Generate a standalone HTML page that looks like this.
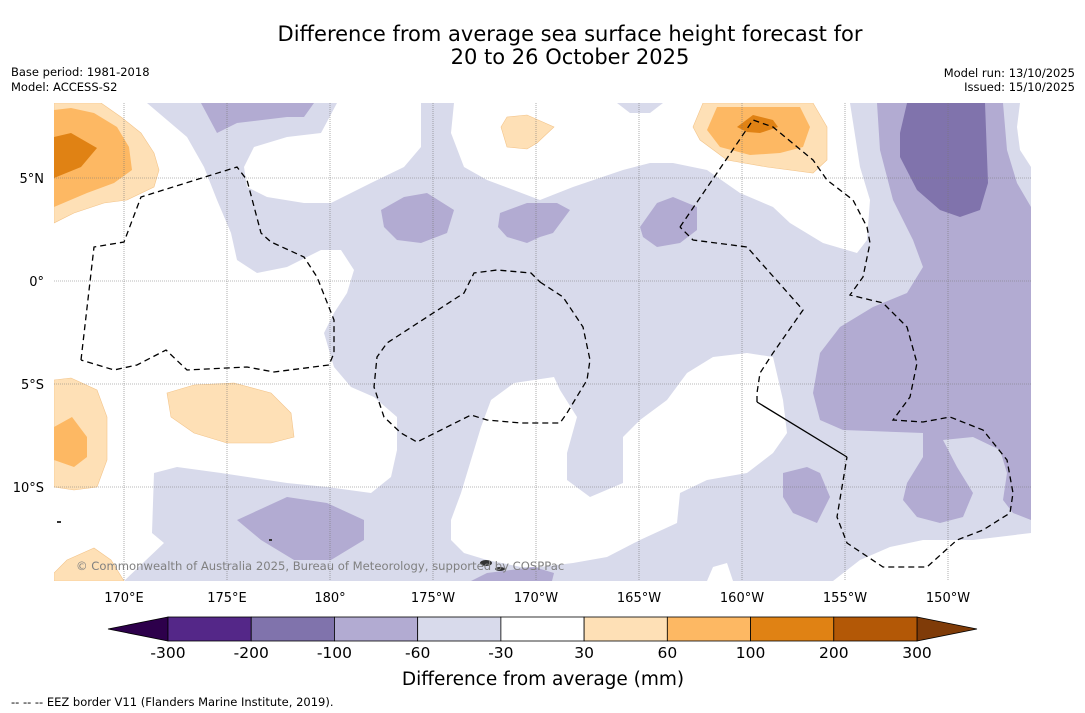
<!DOCTYPE html>
<html><head><meta charset="utf-8"><style>
body{margin:0;background:#fff;width:1085px;height:713px;overflow:hidden;font-family:"Liberation Sans","DejaVu Sans",sans-serif}
svg{position:absolute;left:0;top:0}
</style></head><body>
<svg width="1085" height="713" font-family="DejaVu Sans, Liberation Sans, sans-serif">
<text x="570" y="41" font-size="21" text-anchor="middle">Difference from average sea surface height forecast for</text>
<text x="570" y="64" font-size="21" text-anchor="middle">20 to 26 October 2025</text>
<text x="11" y="76" font-size="11.5">Base period: 1981-2018</text>
<text x="11" y="91" font-size="11.5">Model: ACCESS-S2</text>
<text x="1075" y="77" font-size="11.5" text-anchor="end">Model run: 13/10/2025</text>
<text x="1075" y="91" font-size="11.5" text-anchor="end">Issued: 15/10/2025</text>
<defs><clipPath id="mc"><rect x="54" y="103" width="977" height="478"/></clipPath></defs>
<g clip-path="url(#mc)">
<rect x="54" y="103" width="977" height="478" fill="#d8daeb"/>
<g fill="#ffffff">
<polygon points="147,103 167,120 187,137 204,167 217,200 231,233 237,260 257,273 287,267 321,250 341,250 354,270 347,293 334,313 324,333 334,367 351,387 374,397 397,417 397,450 391,477 371,493 327,487 287,483 221,473 177,467 154,473 152,533 164,543 124,581 54,581 54,103"/>
<polygon points="337,103 321,133 287,137 254,147 244,167 247,187 267,197 304,203 331,203 371,183 404,167 421,147 421,103"/>
<polygon points="454,103 451,133 464,167 487,180 540,200 573,187 623,170 650,163 673,163 707,170 740,193 773,207 790,223 823,243 857,253 867,240 870,200 860,167 850,103"/>
<polygon points="1020,103 1017,127 1020,150 1031,167 1031,103"/>
<polygon points="554,377 514,383 491,400 481,427 471,460 461,493 451,520 451,540 464,553 487,560 521,567 540,567 573,563 607,557 640,540 677,523 680,493 707,480 747,473 773,453 787,433 783,400 773,357 747,353 713,357 687,373 667,400 640,420 623,437 623,483 590,497 567,480 567,453 577,417 560,390"/>
<polygon points="833,581 860,560 890,547 923,540 973,540 1031,533 1031,581"/>
<polygon points="707,581 713,567 727,563 733,581"/>
</g>
<polygon points="617,103 663,103 650,113 630,113" fill="#d8daeb"/>
<g fill="#b2abd2">
<polygon points="877,103 880,150 893,200 913,240 923,267 907,293 873,307 840,327 820,353 813,393 820,420 843,430 923,433 923,457 907,483 903,500 917,517 940,523 963,517 973,493 957,467 943,440 973,437 1000,450 1007,473 1003,500 1013,513 1031,520 1031,207 1017,183 1007,150 1003,103"/>
<polygon points="783,473 807,467 820,473 830,497 817,523 793,513 783,497"/>
<polygon points="640,227 657,203 673,197 697,207 697,230 680,243 657,247 643,237"/>
<polygon points="500,213 527,203 557,203 570,210 553,233 540,237 527,243 507,237 498,227"/>
<polygon points="381,210 404,197 427,193 454,210 447,233 421,243 397,240 384,227"/>
<polygon points="201,103 217,133 237,123 287,117 304,117 314,103"/>
<polygon points="237,520 287,497 327,503 364,520 364,540 331,560 294,560 261,540"/>
<polygon points="471,581 487,573 534,567 554,573 552,581"/>
</g>
<polygon points="907,103 900,133 900,157 917,190 940,210 960,217 980,210 988,183 985,103" fill="#8073ac"/>
<g fill="#fee0b6" stroke="#f3c48a" stroke-width="0.6">
<polygon points="54,103 101,103 121,117 141,133 154,153 159,170 154,187 127,200 104,203 74,213 54,223"/>
<polygon points="54,380 71,378 97,390 107,417 107,460 97,487 74,490 54,487"/>
<polygon points="167,393 194,385 234,383 271,393 291,413 294,437 271,443 227,443 194,433 171,417"/>
<polygon points="54,573 67,560 94,548 111,560 124,581 54,581"/>
<polygon points="501,127 507,117 527,115 554,127 537,143 527,149 507,147"/>
<polygon points="693,127 703,103 813,103 827,127 827,160 813,173 767,167 727,160 700,140"/>
</g>
<g fill="#fdb863">
<polygon points="54,110 71,108 94,113 117,127 129,147 132,170 114,183 87,193 54,207"/>
<polygon points="54,427 72,417 87,437 87,457 74,467 54,460"/>
<polygon points="707,130 717,107 800,107 810,127 803,147 780,153 750,155 720,147"/>
</g>
<g fill="#e08214">
<polygon points="54,137 71,133 97,148 81,167 54,178"/>
<polygon points="737,127 753,115 773,120 778,127 760,133 747,132"/>
</g>
<g id="grid"></g>
<g fill="none" stroke="#000" stroke-width="1.3" stroke-dasharray="6,4">
<polyline points="81,360 94,247 124,242 141,197 237,167 247,180 261,233 271,242 304,257 317,277 334,320 334,353 329,365 274,372 247,367 187,370 166,350 137,365 114,370 81,360"/>
<polyline points="540,282 563,297 583,327 590,360 587,380 567,413 560,423 521,423 487,420 471,415 417,442 401,433 384,417 374,387 377,357 387,343 464,293 474,273 497,270 531,273 540,282"/>
<polyline points="680,227 717,173 753,120 773,127 813,160 827,180 853,200 867,227 870,243 863,277 850,295 883,303 907,327 917,363 910,397 893,420 923,422 950,417 983,430 1007,460 1013,493 1010,513 983,530 957,540 927,567 883,567 847,543 837,517 847,457"/>
<polyline points="757,402 757,393 760,373 773,353 803,310 747,247 693,240 680,227"/>
</g>
<line x1="847" y1="457" x2="757" y2="402" stroke="#000" stroke-width="1.3"/>
<g fill="#333">
<ellipse cx="486" cy="563" rx="6" ry="3"/><ellipse cx="500" cy="569" rx="5" ry="2"/>
<rect x="57" y="521" width="4" height="2"/><rect x="269" y="539" width="3" height="2"/>
</g>
<text x="76" y="570" font-size="11.6" fill="#808080">© Commonwealth of Australia 2025, Bureau of Meteorology, supported by COSPPac</text>
</g>
<g id="ticks" font-size="13"></g>
<g id="cbar"></g>
<text x="543" y="685" font-size="18.5" text-anchor="middle">Difference from average (mm)</text>
<text x="11" y="706" font-size="11.5">--  --  -- EEZ border V11 (Flanders Marine Institute, 2019).</text>
</svg>
<script>
const lonTicks=[170,175,180,185,190,195,200,205,210];
const lonLabels=["170°E","175°E","180°","175°W","170°W","165°W","160°W","155°W","150°W"];
const latTicks=[5,0,-5,-10];
const latLabels=["5°N","0°","5°S","10°S"];
const cbarBounds=["-300","-200","-100","-60","-30","30","60","100","200","300"];
const cbarColors=["#542788","#8073ac","#b2abd2","#d8daeb","#ffffff","#fee0b6","#fdb863","#e08214","#b35806"];
const extLow="#2d004b", extHigh="#7f3b08";
const NS="http://www.w3.org/2000/svg";
const xLon=l=>124+(l-170)*20.6;
const yLat=l=>281-l*20.6;
function mk(t,a,p){const e=document.createElementNS(NS,t);for(const k in a)e.setAttribute(k,a[k]);p.appendChild(e);return e;}
const grid=document.getElementById('grid'),ticks=document.getElementById('ticks'),cb=document.getElementById('cbar');
lonTicks.forEach((l,i)=>{const x=xLon(l);
 const g=mk('line',{x1:x,x2:x,y1:103,y2:581,stroke:'#777','stroke-width':0.6,'stroke-dasharray':'1,1'},grid);
 
 
 const t=mk('text',{x:x,y:602,'text-anchor':'middle'},ticks);t.textContent=lonLabels[i];
 
 });
latTicks.forEach((l,i)=>{const y=yLat(l);
 const g=mk('line',{x1:54,x2:1031,y1:y,y2:y,stroke:'#777','stroke-width':0.6,'stroke-dasharray':'1,1'},grid);
 
 
 const t=mk('text',{x:44,y:y+5,'text-anchor':'end'},ticks);t.textContent=latLabels[i];
 
 });
const cx0=168,cx1=917,cy=617,ch=24,n=cbarColors.length,w=(cx1-cx0)/n;
const lo=mk('polygon',{points:`${cx0},${cy} 108,${cy+ch/2} ${cx0},${cy+ch}`,fill:extLow,stroke:'#000','stroke-width':0.8},cb);


const hi=mk('polygon',{points:`${cx1},${cy} 977,${cy+ch/2} ${cx1},${cy+ch}`,fill:extHigh,stroke:'#000','stroke-width':0.8},cb);


cbarColors.forEach((c,i)=>{const r=mk('rect',{x:cx0+i*w,y:cy,width:w,height:ch,fill:c,stroke:'#000','stroke-width':0.8},cb);
 
 });
cbarBounds.forEach((b,i)=>{const t=mk('text',{x:cx0+i*w,y:658,'font-size':15.5,'text-anchor':'middle'},cb);t.textContent=b;
 
 });
</script>
</body></html>
